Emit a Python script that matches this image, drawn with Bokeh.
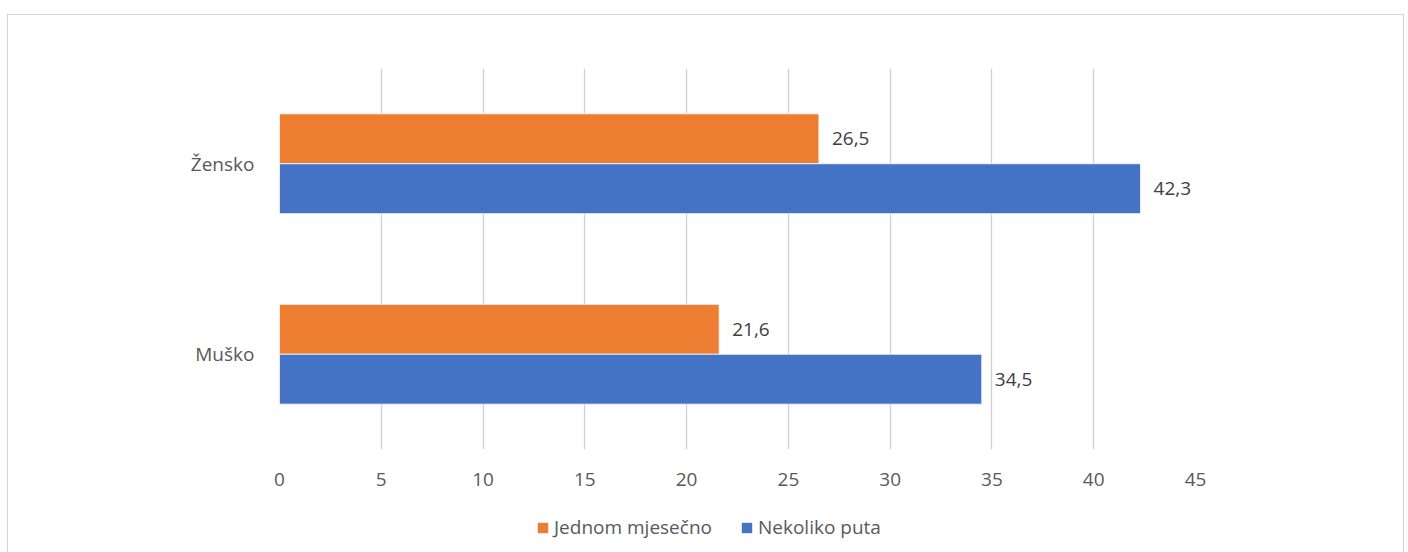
from bokeh.plotting import figure
from bokeh.models import ColumnDataSource, Legend, LegendItem, FixedTicker, Range1d, FactorRange, Spacer
from bokeh.layouts import column, row
from bokeh.transform import dodge
from bokeh.embed import file_html
from bokeh.resources import INLINE
from bokeh.core.properties import value

categories = ["Muško", "Žensko"]
jednom = [21.6, 26.5]
nekoliko = [34.5, 42.3]
series_names = ["Jednom mjesečno", "Nekoliko puta"]
x_ticks = [0, 5, 10, 15, 20, 25, 30, 35, 40, 45]

ORANGE = "#ED7D31"
BLUE = "#4472C4"
FONT = "Open Sans"
FS = "19px"

def fmt(v):
    return f"{v:.1f}".replace(".", ",")

src = ColumnDataSource(dict(
    cat=categories,
    jed=jednom,
    nek=nekoliko,
    jed_lbl=[fmt(v) for v in jednom],
    nek_lbl=[fmt(v) for v in nekoliko],
))

p = figure(
    y_range=categories,
    x_range=Range1d(0, 45),
    width=1395, height=485,
    output_backend="svg", toolbar_location=None,
    min_border_left=271, min_border_right=208,
    min_border_top=53, min_border_bottom=51,
)
p.outline_line_color = None
p.background_fill_color = "white"
p.border_fill_color = "white"

bh = 0.262
r1 = p.hbar(y=dodge("cat", bh / 2, range=p.y_range), right="jed", left=0, height=bh,
            source=src, fill_color=ORANGE, line_color="white", line_width=0.8)
r2 = p.hbar(y=dodge("cat", -bh / 2, range=p.y_range), right="nek", left=0, height=bh,
            source=src, fill_color=BLUE, line_color="white", line_width=0.8)

for col, lbl, off in (("jed", "jed_lbl", bh / 2), ("nek", "nek_lbl", -bh / 2)):
    p.text(x=col, y=dodge("cat", off, range=p.y_range), text=lbl, source=src,
           x_offset=13, text_baseline="middle", text_align="left",
           text_font=value(FONT), text_font_size=FS, text_color="#404040")

p.xaxis.ticker = FixedTicker(ticks=x_ticks)
for ax in (p.xaxis[0], p.yaxis[0]):
    ax.axis_line_color = None
    ax.major_tick_line_color = None
    ax.minor_tick_line_color = None
    ax.major_tick_out = 0
    ax.minor_tick_out = 0
    ax.major_label_text_font = FONT
    ax.major_label_text_font_size = FS
    ax.major_label_text_color = "#595959"
p.xaxis.major_label_standoff = 23
p.yaxis.major_label_standoff = 25

p.xgrid.grid_line_color = "#d0d0d0"
p.xgrid.grid_line_width = 1.3
p.ygrid.grid_line_color = None

# legend strip below the chart (zero-height proxy bars, only used for legend swatches)
pl = figure(
    width=1395, height=53,
    x_range=Range1d(100, 101), y_range=FactorRange(*categories),
    output_backend="svg", toolbar_location=None,
    min_border=0,
)
pl.axis.visible = False
pl.grid.visible = False
pl.outline_line_color = None
pl.background_fill_color = "white"
pl.border_fill_color = "white"
l1 = pl.hbar(y="cat", right="jed", left="jed", height=0, source=src,
             fill_color=ORANGE, line_color=None)
l2 = pl.hbar(y="cat", right="nek", left="nek", height=0, source=src,
             fill_color=BLUE, line_color=None)

legend = Legend(
    items=[LegendItem(label=series_names[0], renderers=[l1]),
           LegendItem(label=series_names[1], renderers=[l2])],
    orientation="horizontal",
    location=(257, 13),
    glyph_width=13, glyph_height=13,
    label_standoff=5, spacing=28, padding=0, margin=0,
    label_text_font=FONT, label_text_font_size=FS, label_text_color="#595959",
    border_line_color=None, background_fill_alpha=0,
)
pl.add_layout(legend, "center")

inner = column(p, pl, spacing=0, styles={"border": "1.5px solid #d4d4d4"})
page = column(Spacer(height=14), row(Spacer(width=7), inner, spacing=0), spacing=0)

open("out.html", "w").write(file_html(page, INLINE))
